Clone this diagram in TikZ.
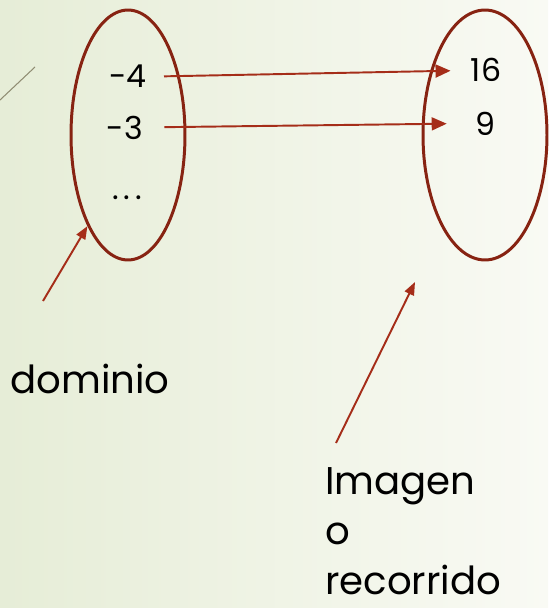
\documentclass[tikz,border=0pt]{standalone}
\usepackage{fontspec}
\setmainfont{Poppins}
\usetikzlibrary{arrows.meta,shapes.geometric}

\definecolor{setred}{RGB}{135,35,18}
\definecolor{maparrow}{RGB}{165,45,25}
\definecolor{bgleft}{RGB}{230,237,215}
\definecolor{bgright}{RGB}{249,250,244}

\begin{document}
\begin{tikzpicture}[
  x=0.02cm, y=-0.02cm,
  >={Triangle[length=0.3cm,width=0.26cm]},
  set/.style={draw=setred, line width=1.7pt, ellipse, inner sep=0pt,
    minimum width=2.28cm, minimum height=5cm},
  elem/.style={font=\fontsize{18}{20}\selectfont, inner sep=0pt, anchor=base},
  tag/.style={font=\fontsize{22}{28.5}\selectfont, inner sep=0pt},
  maps/.style={->, draw=maparrow, line width=1.1pt},
  points/.style={-{Triangle[length=0.26cm,width=0.2cm]}, draw=maparrow, line width=1.1pt}
]

% ============================================================
% Page and background
% ============================================================
\useasboundingbox (0,0) rectangle (548,608);
\shade[left color=bgleft, right color=bgright] (0,0) rectangle (548,608);
\draw[gray!80!olive, line width=0.6pt] (0,100) -- (35,67);

% ============================================================
% Sets (domain and range)
% ============================================================
\node[set] (dom) at (128,135) {};
\node[set, minimum width=2.48cm] (rec) at (485,135) {};

% ============================================================
% Elements
% ============================================================
\node[elem] (m4) at (128,88) {-4};
\node[elem] (m3) at (125,139) {-3};
\node[elem] (dots) at (127,199) {.\hspace{0.1cm}.\hspace{0.1cm}.};
\node[elem] (p16) at (486,82) {16};
\node[elem] (p9) at (485,135) {9};

% Mapping arrows
\draw[maps, shorten <=0.34cm, shorten >=0.4cm] (m4.east) -- (p16.west);
\draw[maps, shorten <=0.42cm, shorten >=0.56cm] (m3.east) -- (p9.west);

% ============================================================
% Labels with pointers
% ============================================================
\node[tag, anchor=base west] (domtxt) at (10,393) {dominio};
\coordinate (domfoot) at (43,301);
\draw[points] (domfoot) -- (dom.246);

\node[tag, anchor=north west, align=left] (rectxt) at (325,467) {Imagen\\o\\recorrido};
\coordinate (recfoot) at (336,443);
\coordinate (rectip) at (415,282);
\draw[points] (recfoot) -- (rectip);

\end{tikzpicture}
\end{document}
